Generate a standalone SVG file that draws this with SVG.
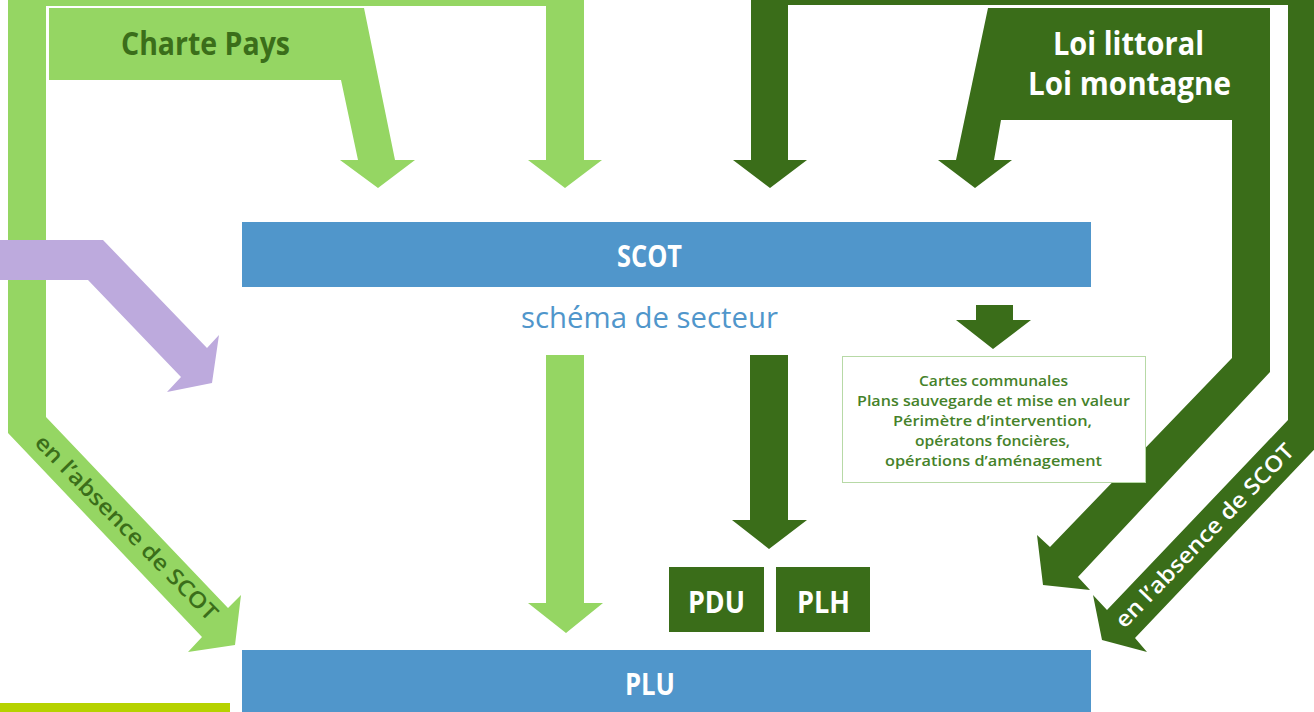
<svg xmlns="http://www.w3.org/2000/svg" width="1314" height="712" viewBox="0 0 1314 712">
<style>
.lg{fill:#95d663}
.dg{fill:#3a6d19}
.bl{fill:#5096cb}
.pu{fill:#bdaadd}
.t{font-family:"Open Sans","Liberation Sans",sans-serif;font-weight:700}
.w{fill:#ffffff}
.dt{fill:#3b6e1a}
.sm{font-family:"Open Sans","Liberation Sans",sans-serif;font-weight:600;font-size:14px;fill:#45822a}
.rot{font-family:"Open Sans","Liberation Sans",sans-serif;font-weight:600;font-size:22px}
</style>
<rect width="1314" height="712" fill="#ffffff"/>
<g id="connectors">
  <polygon class="lg" points="8,0 584,0 584,160 602,160 565,188 528,160 546,160 546,6 46,6 46,417 228,608 241,595 235,645 188,652 202,637 8,433"/>
  <polygon class="dg" points="751,0 1330,0 1330,433 1135,638 1147,652 1102,640 1093,595 1107,610 1288,420 1288,5 788,5 788,160 807,160 770,188 733,160 751,160"/>
  <polygon class="pu" points="0,240 103,240 207,348 219,335 212,383 167,392 181,377 88,280 0,280"/>
  <polygon class="lg" points="546,355 584,355 584,603 603,603 566,633 528,603 546,603"/>
  <polygon class="dg" points="750,355 788,355 788,520 807,520 769,549 732,520 750,520"/>
  <polygon class="dg" points="976,305 1013,305 1013,320 1031,320 993,349 956,320 976,320"/>
  <text class="rot dt" text-anchor="middle" textLength="250" lengthAdjust="spacingAndGlyphs" transform="translate(126,528) rotate(45.5)" y="7">en l’absence de SCOT</text>
  <text class="rot w" text-anchor="middle" textLength="246" lengthAdjust="spacingAndGlyphs" transform="translate(1205,536) rotate(-46)" y="7">en l’absence de SCOT</text>
</g>
<g id="charte-pays">
  <polygon class="lg" points="49,8 364,8 395,160 415,160 378,188 340,160 358,160 341,80 49,80"/>
  <text class="t dt" x="121" y="55" font-size="32" textLength="169" lengthAdjust="spacingAndGlyphs">Charte Pays</text>
</g>
<g id="loi">
  <polygon class="dg" points="988,8 1270,8 1270,372 1078,577 1090,590 1043,585 1037,535 1050,547 1232,358 1232,120 1001,120 994,160 1012,160 975,188 938,160 956,160"/>
  <text class="t w" x="1053" y="55" font-size="32" textLength="151" lengthAdjust="spacingAndGlyphs">Loi littoral</text>
  <text class="t w" x="1028" y="95" font-size="32" textLength="203" lengthAdjust="spacingAndGlyphs">Loi montagne</text>
</g>
<g id="scot">
  <rect class="bl" x="242" y="222" width="849" height="65"/>
  <text class="t w" x="617" y="267" font-size="30" textLength="65" lengthAdjust="spacingAndGlyphs">SCOT</text>
</g>
<g id="schema-de-secteur">
  <text x="521" y="328" font-family="Open Sans, Liberation Sans, sans-serif" font-size="30" fill="#5096cb" textLength="257" lengthAdjust="spacingAndGlyphs">schéma de secteur</text>
</g>
<g id="cartes">
  <rect x="842.5" y="356.5" width="303" height="126" fill="#ffffff" stroke="#b7d9a6" stroke-width="1"/>
  <text class="sm" x="919" y="386" textLength="149" lengthAdjust="spacingAndGlyphs">Cartes communales</text>
  <text class="sm" x="857" y="406" textLength="273" lengthAdjust="spacingAndGlyphs">Plans sauvegarde et mise en valeur</text>
  <text class="sm" x="893" y="426" textLength="199" lengthAdjust="spacingAndGlyphs">Périmètre d’intervention,</text>
  <text class="sm" x="915" y="446" textLength="155" lengthAdjust="spacingAndGlyphs">opératons foncières,</text>
  <text class="sm" x="885" y="466" textLength="217" lengthAdjust="spacingAndGlyphs">opérations d’aménagement</text>
</g>
<g id="pdu">
  <rect class="dg" x="669" y="567" width="95" height="65"/>
  <text class="t w" x="688" y="613" font-size="31" textLength="57" lengthAdjust="spacingAndGlyphs">PDU</text>
</g>
<g id="plh">
  <rect class="dg" x="776" y="567" width="94" height="65"/>
  <text class="t w" x="797" y="613" font-size="31" textLength="53" lengthAdjust="spacingAndGlyphs">PLH</text>
</g>
<g id="plu">
  <rect class="bl" x="242" y="650" width="849" height="62"/>
  <text class="t w" x="625" y="695" font-size="30" textLength="50" lengthAdjust="spacingAndGlyphs">PLU</text>
</g>
<rect x="0" y="703" width="230" height="9" fill="#b6d200"/>
</svg>
